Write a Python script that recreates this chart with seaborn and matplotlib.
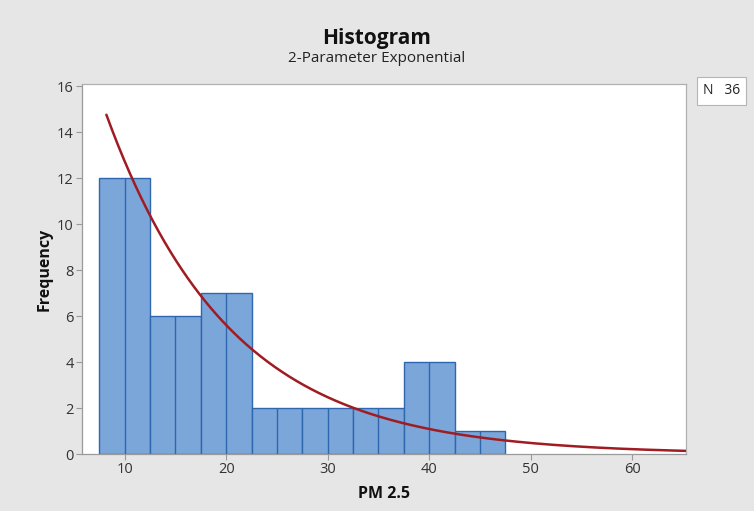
import numpy as np
import pandas as pd
import matplotlib
matplotlib.use("Agg")
import matplotlib.pyplot as plt
import seaborn as sns

# Data
bin_centers = [10, 15, 20, 25, 30, 35, 40, 45]
counts = [12, 6, 7, 2, 2, 2, 4, 1]
bin_width = 5
n_total = 36
# 2-parameter exponential fit parameters (threshold, scale)
fit_threshold = 8.2
fit_scale = 12.2
x_ticks = [10, 20, 30, 40, 50, 60]
y_ticks = [0, 2, 4, 6, 8, 10, 12, 14, 16]

sns.set_theme(style="white")
plt.rcParams['font.family'] = ['Open Sans', 'DejaVu Sans']

df = pd.DataFrame({"PM 2.5": bin_centers, "count": counts})
edges = [float(c) - bin_width / 2 for c in bin_centers] + [bin_centers[-1] + bin_width / 2]

fig = plt.figure(figsize=(7.54, 5.11), dpi=100, facecolor="#e6e6e6")
ax = fig.add_axes([0.1088, 0.1115, 0.801, 0.7245])
ax.set_facecolor("white")

bar_fill = "#7ba6da"
bar_edge = "#2f66b0"
sns.histplot(data=df, x="PM 2.5", weights="count", bins=edges, ax=ax,
             color=bar_fill, edgecolor=bar_edge, linewidth=1.0, alpha=1.0)
# centre dividers inside each bar (Minitab style)
ax.vlines(df["PM 2.5"], 0, df["count"], color=bar_edge, linewidth=1.0, zorder=3)

# fitted curve
xs = np.linspace(fit_threshold, 65.3, 400)
ys = n_total * bin_width / fit_scale * np.exp(-(xs - fit_threshold) / fit_scale)
ax.plot(xs, ys, color="#a01c22", linewidth=1.8, zorder=4)

ax.set_xlim(5.8, 65.3)
ax.set_ylim(0, 16.1)
ax.set_xticks(x_ticks)
ax.set_yticks(y_ticks)
ax.tick_params(axis="both", which="both", direction="out", length=4, width=0.8,
               color="#9a9a9a", labelsize=10.5, labelcolor="#333333", pad=2,
               bottom=True, left=True)
for side, sp in ax.spines.items():
    sp.set_color("#b0b0b0")
    sp.set_linewidth(0.9)
ax.spines["left"].set_color("#9a9a9a")
ax.spines["bottom"].set_color("#9a9a9a")

ax.set_xlabel("PM 2.5", fontsize=11.5, fontweight="bold", color="#111111", labelpad=6)
ax.set_ylabel("Frequency", fontsize=11.5, fontweight="bold", color="#111111", labelpad=3)

fig.text(0.5, 0.925, "Histogram", ha="center", va="center", fontsize=15,
         fontweight="bold", color="#111111")
fig.text(0.5, 0.886, "2-Parameter Exponential", ha="center", va="center",
         fontsize=11, color="#222222")

fig.text(0.957, 0.822, f"N   {n_total}", ha="center", va="center", fontsize=10,
         color="#222222",
         bbox=dict(boxstyle="square,pad=0.45", facecolor="white", edgecolor="#b5b5b5",
                   linewidth=0.8))

fig.savefig("out.png", dpi=100, facecolor=fig.get_facecolor())
